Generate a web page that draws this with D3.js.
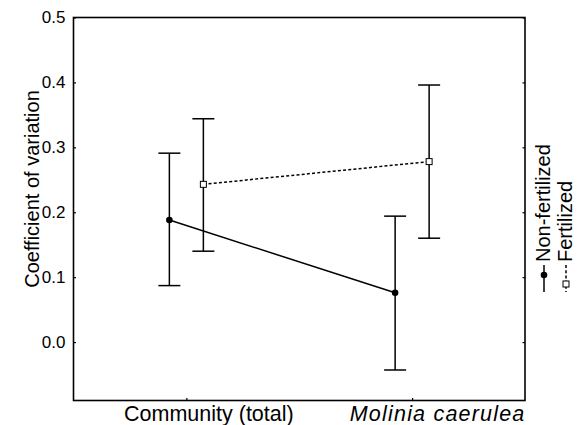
<!DOCTYPE html>
<html>
<head>
<meta charset="utf-8">
<script src="https://cdn.jsdelivr.net/npm/d3@7/dist/d3.min.js"></script>
<style>
  html, body { margin: 0; padding: 0; background: #fff; }
  svg { display: block; font-family: "Liberation Sans", Arial, sans-serif; }
</style>
</head>
<body>
<svg id="chart" width="588" height="425"></svg>
<script>
// Categories on the x axis and the two treatment series
const categories = ["Community (total)", "Molinia caerulea"];
const seriesNames = ["Non-fertilized", "Fertilized"];

// Mean coefficient of variation with lower/upper error-bar limits
const nonFertMean  = [0.188, 0.076];
const nonFertLower = [0.087, -0.043];
const nonFertUpper = [0.291, 0.194];

const fertMean  = [0.243, 0.278];
const fertLower = [0.140, 0.160];
const fertUpper = [0.344, 0.396];

const yTicks = [0.0, 0.1, 0.2, 0.3, 0.4, 0.5];

const series = [
  { name: seriesNames[0], mean: nonFertMean, lo: nonFertLower, hi: nonFertUpper, filled: true,  dash: null },
  { name: seriesNames[1], mean: fertMean,    lo: fertLower,    hi: fertUpper,    filled: false, dash: "3,2.2" }
];

const svg = d3.select("#chart");
const plotL = 73.5, plotR = 525, plotT = 17.5, plotB = 400.5;

const x = d3.scalePoint().domain(categories).range([plotL, plotR]).padding(0.5);
const dx = d3.scalePoint().domain(seriesNames).range([-17, 17]);
const y = d3.scaleLinear().domain([-0.09, 0.5]).range([plotB, plotT]);

const fmt = d3.format(".1f");

// Left axis with inward ticks
const yAxis = svg.append("g")
  .attr("transform", `translate(${plotL},0)`)
  .call(d3.axisLeft(y).tickValues(yTicks).tickSize(-2.5).tickPadding(8).tickFormat(fmt));
yAxis.select(".domain").remove();
yAxis.selectAll("text").attr("font-size", 17).attr("fill", "#000")
  .attr("font-family", "Liberation Sans, Arial, sans-serif");
yAxis.selectAll("line").attr("stroke", "#000").attr("stroke-width", 1.2);

// Right axis, ticks only
const yAxisR = svg.append("g")
  .attr("transform", `translate(${plotR},0)`)
  .call(d3.axisRight(y).tickValues(yTicks).tickSize(-2.5).tickFormat(""));
yAxisR.select(".domain").remove();
yAxisR.selectAll("line").attr("stroke", "#000").attr("stroke-width", 1.2);

// Bottom axis: inward ticks at category positions, labels set to the right
const labelShift = { "Community (total)": 22, "Molinia caerulea": 25 };
const xAxis = svg.append("g")
  .attr("transform", `translate(0,${plotB})`)
  .call(d3.axisBottom(x).tickSize(-2.5).tickPadding(8));
xAxis.select(".domain").remove();
xAxis.selectAll("line").attr("stroke", "#000").attr("stroke-width", 1.2);
xAxis.selectAll("text")
  .attr("font-size", 21.5).attr("fill", "#000")
  .attr("font-family", "Liberation Sans, Arial, sans-serif")
  .attr("dx", d => labelShift[d])
  .attr("y", 20)
  .attr("dy", "0")
  .attr("letter-spacing", d => d === "Molinia caerulea" ? 1.2 : 0)
  .attr("font-style", d => d === "Molinia caerulea" ? "italic" : "normal");

// Plot frame
svg.append("rect")
  .attr("x", plotL).attr("y", plotT)
  .attr("width", plotR - plotL).attr("height", plotB - plotT)
  .attr("fill", "none").attr("stroke", "#000").attr("stroke-width", 1.6);

// Y axis title
svg.append("text")
  .attr("transform", `translate(39,${(plotT + plotB) / 2 - 20}) rotate(-90)`)
  .attr("text-anchor", "middle")
  .attr("font-size", 20)
  .text("Coefficient of variation");

const px = (s, i) => x(categories[i]) + dx(s.name);

// Connecting lines
series.forEach(s => {
  const line = d3.line().x((d, i) => px(s, i)).y(d => y(d));
  svg.append("path")
    .datum(s.mean)
    .attr("d", line)
    .attr("fill", "none")
    .attr("stroke", "#000")
    .attr("stroke-width", 1.5)
    .attr("stroke-dasharray", s.dash);
});

// Error bars
const capHalf = 11;
series.forEach(s => {
  const g = svg.append("g");
  categories.forEach((c, i) => {
    const cx = px(s, i);
    g.append("line")
      .attr("x1", cx).attr("x2", cx)
      .attr("y1", y(s.lo[i])).attr("y2", y(s.hi[i]))
      .attr("stroke", "#000").attr("stroke-width", 1.5);
    [s.lo[i], s.hi[i]].forEach(v => {
      g.append("line")
        .attr("x1", cx - capHalf).attr("x2", cx + capHalf)
        .attr("y1", y(v)).attr("y2", y(v))
        .attr("stroke", "#000").attr("stroke-width", 1.5);
    });
  });
});

// Point markers
function drawMarker(g, s, cx, cy) {
  if (s.filled) {
    g.append("circle").attr("cx", cx).attr("cy", cy).attr("r", 3.3).attr("fill", "#000");
  } else {
    g.append("rect").attr("x", cx - 3).attr("y", cy - 3).attr("width", 6).attr("height", 6)
      .attr("fill", "#fff").attr("stroke", "#000").attr("stroke-width", 1);
  }
}
series.forEach(s => {
  const g = svg.append("g");
  s.mean.forEach((v, i) => drawMarker(g, s, px(s, i), y(v)));
});

// Legend (rotated, reading upward)
const legendX = [544, 566];
const legendMarkerY = [275, 284];
series.forEach((s, k) => {
  const g = svg.append("g");
  const lx = legendX[k];
  g.append("line")
    .attr("x1", lx).attr("x2", lx).attr("y1", 265).attr("y2", 292)
    .attr("stroke", "#000").attr("stroke-width", 1.5)
    .attr("stroke-dasharray", s.dash);
  drawMarker(g, s, lx, legendMarkerY[k]);
  g.append("text")
    .attr("transform", `translate(${lx + 6},262) rotate(-90)`)
    .attr("font-size", 20)
    .text(s.name);
});
</script>
</body>
</html>
